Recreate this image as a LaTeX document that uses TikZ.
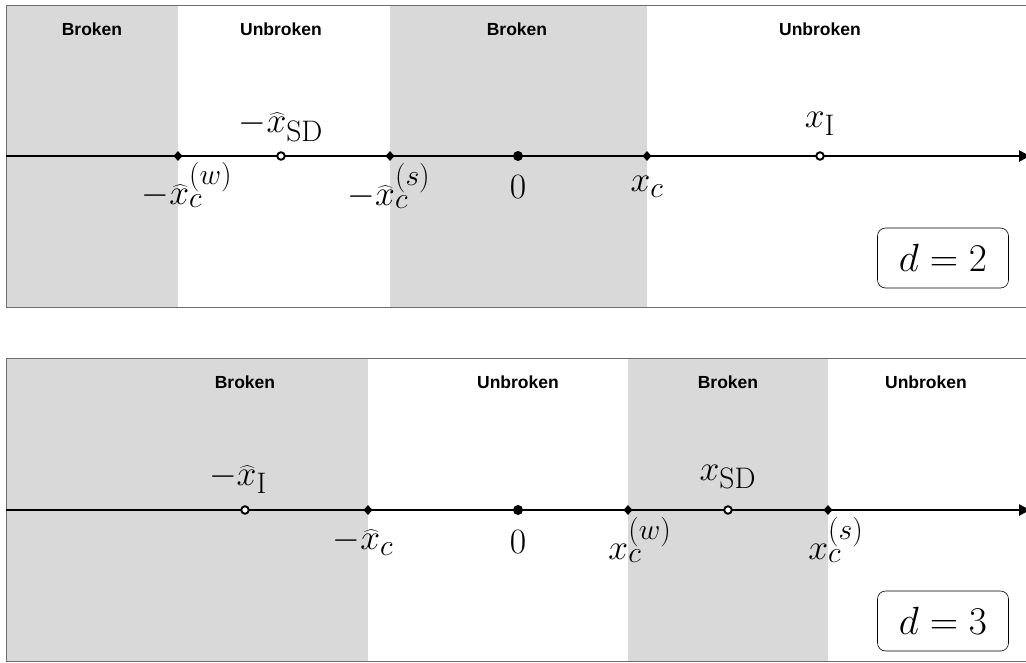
\documentclass[tikz,border=0pt]{standalone}
\usepackage{graphicx}
\usepackage{fontspec}
\newfontfamily\regfont{Liberation Sans}
\usetikzlibrary{shapes.geometric,arrows.meta}
\definecolor{shadegray}{HTML}{D9D9D9}
\definecolor{framegray}{HTML}{6E6E6E}
\begin{document}
\begin{tikzpicture}[x=1pt,y=-1pt,
  region/.style={font=\regfont\bfseries\fontsize{17.5}{20}\selectfont, inner sep=0pt},
  lbl/.style={font=\Huge, inner sep=0pt, scale=1.43},
  zerolbl/.style={font=\Huge, inner sep=0pt, scale=1.43},
  dbox/.style={draw=black, rounded corners=8pt, line width=0.6pt, minimum width=131pt, minimum height=60pt, font=\Huge},
  frame/.style={draw=framegray, line width=1pt},
  axis/.style={line width=2.6pt, -{Triangle[length=11pt,width=11pt]}},
  crit/.style={diamond, fill=black, inner sep=0pt, minimum width=9pt, minimum height=10pt},
  origin/.style={circle, fill=black, inner sep=0pt, minimum size=10pt},
  open/.style={circle, draw=black, fill=white, line width=1.9pt, inner sep=0pt, minimum size=7.5pt}]
\useasboundingbox (0,0) rectangle (1026,662);
\fill[white] (0,0) rectangle (1026,662);

% ===== top panel (d = 2) =====
\fill[shadegray] (6,5) rectangle (178,307);
\fill[shadegray] (390,5) rectangle (647,307);
\draw[frame] (1030,5) -- (6,5) -- (6,307) -- (1030,307);

\node[region] (t1) at (92,29) {Broken};
\node[region] (t2) at (281,29) {Unbroken};
\node[region] (t3) at (517,29) {Broken};
\node[region] (t4) at (820,29) {Unbroken};

\coordinate (tl) at (6,156);
\coordinate (tr) at (1030,156);
\draw[axis] (tl) -- (tr);
\node[crit] (tA) at (178,156) {};
\node[open] (tB) at (281,156) {};
\node[crit] (tC) at (390,156) {};
\node[origin] (tD) at (518,156) {};
\node[crit] (tE) at (647,156) {};
\node[open] (tF) at (820,156) {};

\node[lbl] (ltA) at (187,185) {$-\widehat{x}_c^{(w)}$};
\node[lbl] (ltB) at (281,127) {$-\widehat{x}_{\mathrm{SD}}$};
\node[lbl] (ltC) at (389,186) {$-\widehat{x}_c^{(s)}$};
\node[zerolbl] (ltD) at (518,187) {$0$};
\node[lbl] (ltE) at (647,187) {$x_c$};
\node[lbl] (ltF) at (820,124) {$x_{\mathrm{I}}$};
\node[dbox] (d2) at (943,258) {\scalebox{1.58}{$d=2$}};

% ===== bottom panel (d = 3) =====
\fill[shadegray] (6,358) rectangle (368,661);
\fill[shadegray] (628,358) rectangle (828,661);
\draw[frame] (1030,358) -- (6,358) -- (6,661) -- (1030,661);

\node[region] (b1) at (245,382) {Broken};
\node[region] (b2) at (518,382) {Unbroken};
\node[region] (b3) at (728,382) {Broken};
\node[region] (b4) at (926,382) {Unbroken};

\coordinate (bl) at (6,510);
\coordinate (br) at (1030,510);
\draw[axis] (bl) -- (br);
\node[open] (bA) at (245,510) {};
\node[crit] (bB) at (368,510) {};
\node[origin] (bC) at (518,510) {};
\node[crit] (bD) at (628,510) {};
\node[open] (bE) at (728,510) {};
\node[crit] (bF) at (828,510) {};

\node[lbl] (lbA) at (238,479) {$-\widehat{x}_{\mathrm{I}}$};
\node[lbl] (lbB) at (363,542) {$-\widehat{x}_c$};
\node[zerolbl] (lbC) at (518,542) {$0$};
\node[lbl] (lbD) at (640,540) {$x_c^{(w)}$};
\node[lbl] (lbE) at (728,477) {$x_{\mathrm{SD}}$};
\node[lbl] (lbF) at (836,540) {$x_c^{(s)}$};
\node[dbox] (d3) at (943,621) {\scalebox{1.58}{$d=3$}};
\end{tikzpicture}
\end{document}
